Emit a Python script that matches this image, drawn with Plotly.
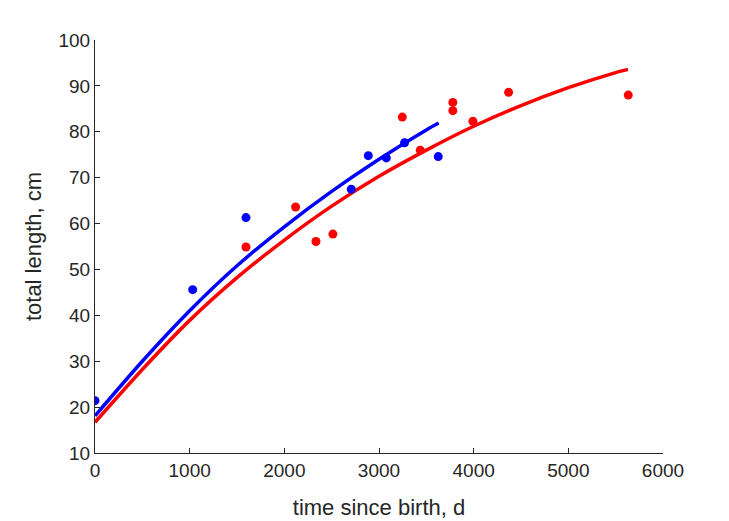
import plotly.graph_objects as go

# Observed data (time since birth, d ; total length, cm)
blue_t = [0, 1032, 1595, 2707, 2887, 3077, 3270, 3626]
blue_L = [21.4, 45.6, 61.3, 67.5, 74.8, 74.3, 77.6, 74.6]

red_t = [1595, 2119, 2334, 2513, 3246, 3436, 3780, 3780, 3992, 4369, 5633]
red_L = [54.9, 63.6, 56.1, 57.7, 83.2, 76.0, 86.4, 84.6, 82.3, 88.6, 88.0]

# Fitted curves, values
blue_fit_t = [0, 500, 1000, 1500, 2000, 2500, 3000, 3500, 3630]
blue_fit_L = [18.1, 30.0, 41.0, 50.8, 59.3, 67.0, 74.0, 80.4, 81.9]

red_fit_t = [0, 500, 1000, 1500, 2000, 2500, 3000, 3500, 4000, 4500, 5000, 5500, 5630]
red_fit_L = [16.7, 28.2, 38.9, 48.2, 56.4, 63.8, 70.3, 76.0, 81.2, 85.7, 89.6, 92.9, 93.6]

x_ticks = [0, 1000, 2000, 3000, 4000, 5000, 6000]
y_ticks = [10, 20, 30, 40, 50, 60, 70, 80, 90, 100]

BLUE = "#0000FF"
RED = "#FF0000"
AX = "#262626"

fig = go.Figure()
fig.add_trace(go.Scatter(x=blue_fit_t, y=blue_fit_L, mode="lines",
                         line=dict(color=BLUE, width=3.5, shape="spline", smoothing=0.8),
                         showlegend=False, hoverinfo="skip"))
fig.add_trace(go.Scatter(x=red_fit_t, y=red_fit_L, mode="lines",
                         line=dict(color=RED, width=3.5, shape="spline", smoothing=0.8),
                         showlegend=False, hoverinfo="skip"))
fig.add_trace(go.Scatter(x=blue_t, y=blue_L, mode="markers",
                         marker=dict(color=BLUE, size=9),
                         showlegend=False))
fig.add_trace(go.Scatter(x=red_t, y=red_L, mode="markers",
                         marker=dict(color=RED, size=9),
                         showlegend=False))

font_family = "Liberation Sans, Arial, Helvetica, sans-serif"

fig.update_layout(
    width=729, height=521,
    margin=dict(l=95, r=66, t=40, b=68, autoexpand=False),
    paper_bgcolor="white", plot_bgcolor="white",
    font=dict(family=font_family, color=AX, size=19),
    showlegend=False,
)
fig.update_xaxes(
    range=[0, 6000], tickvals=x_ticks, ticktext=[str(v) for v in x_ticks],
    showgrid=False, zeroline=False, showline=True, linecolor=AX, linewidth=1,
    ticks="inside", ticklen=5, tickcolor=AX, tickfont=dict(size=19, color=AX),
    automargin=False,
    title=dict(text="time since birth, d", font=dict(size=22, color=AX), standoff=19),
)
fig.update_yaxes(
    range=[10, 100], tickvals=y_ticks, ticktext=[str(v) for v in y_ticks],
    showgrid=False, zeroline=False, showline=True, linecolor=AX, linewidth=1,
    ticks="inside", ticklen=5, tickcolor=AX, tickfont=dict(size=19, color=AX),
    automargin=False,
    title=dict(text="total length, cm", font=dict(size=22, color=AX), standoff=10),
)

fig.write_html("out.html")
